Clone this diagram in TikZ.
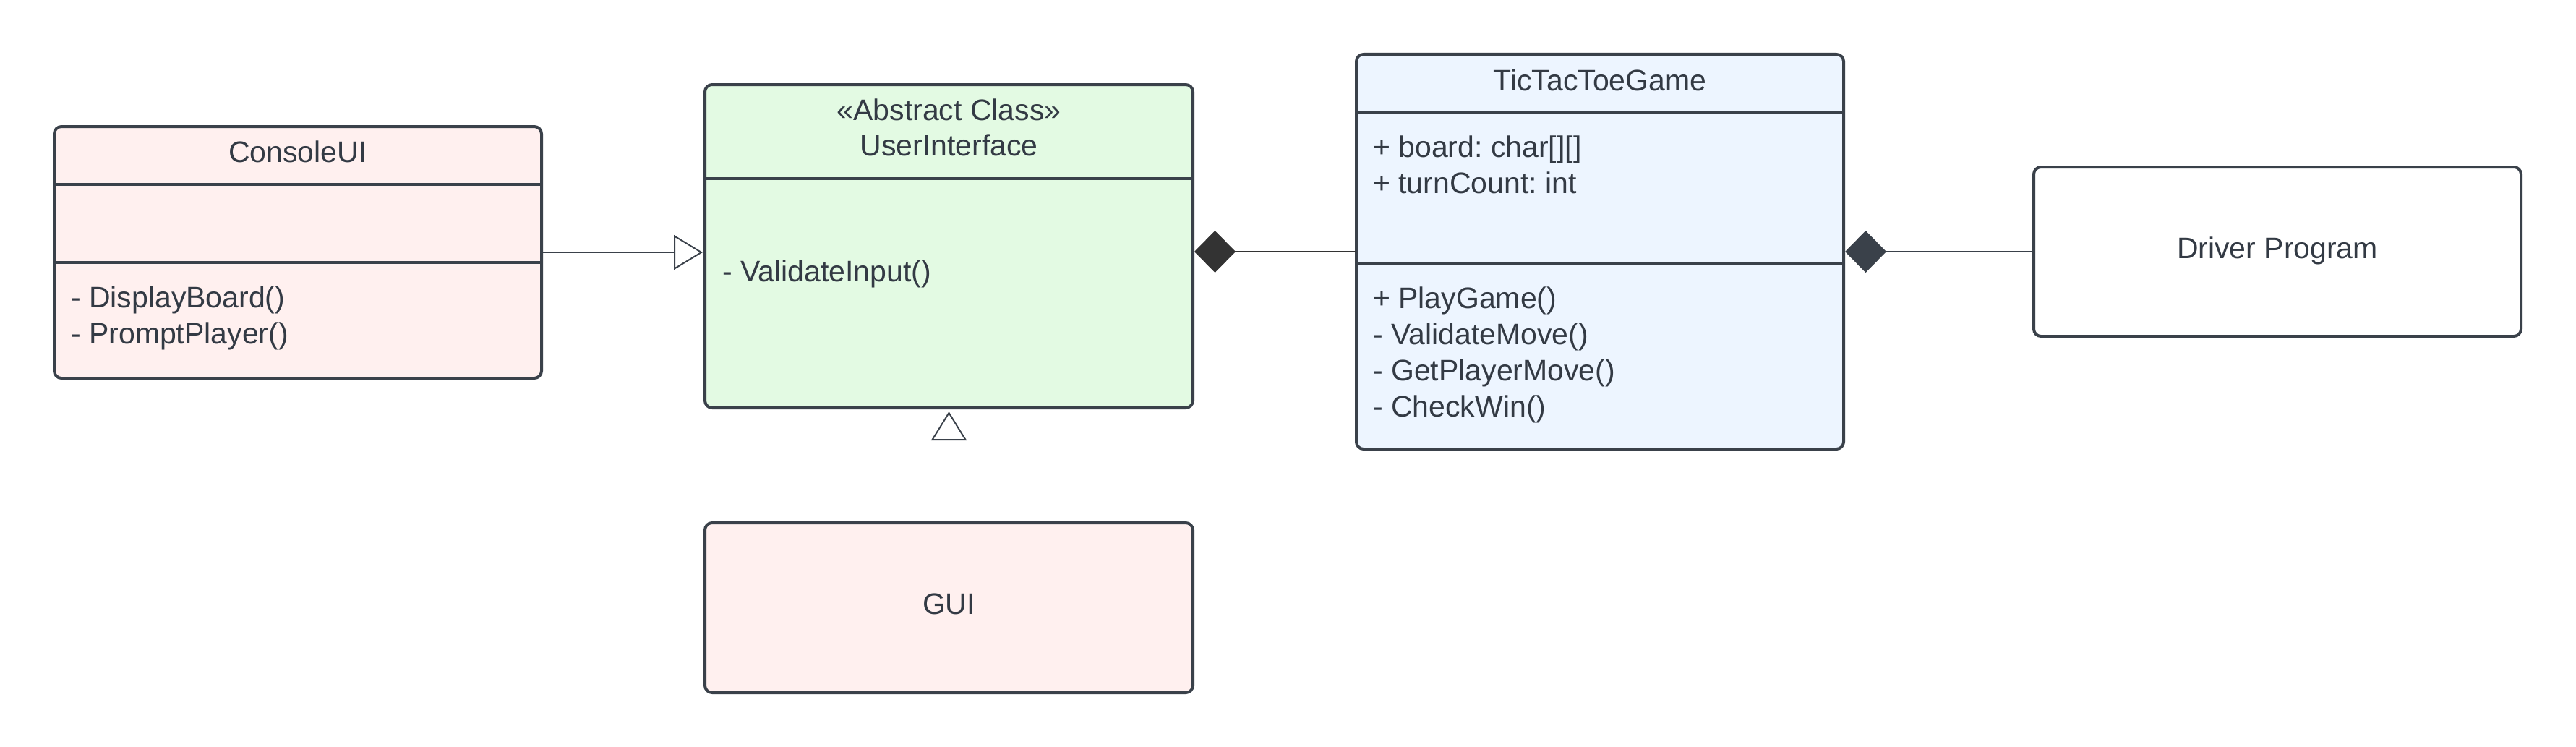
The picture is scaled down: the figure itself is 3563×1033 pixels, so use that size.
\documentclass[tikz,border=0pt]{standalone}
\usepackage{fontspec}
\setmainfont{Liberation Sans}
\usetikzlibrary{arrows.meta}
\definecolor{linec}{HTML}{3A414A}
\definecolor{textc}{HTML}{333A44}
\definecolor{pinkf}{HTML}{FFF0EF}
\definecolor{greenf}{HTML}{E3FAE3}
\definecolor{bluef}{HTML}{EDF5FF}
\definecolor{darkd}{HTML}{333333}
\newcommand\myfs{\fontsize{41}{50}\selectfont\frenchspacing}
\tikzset{
  cls/.style={draw=linec, line width=4pt, rounded corners=10pt, inner sep=0pt, outer sep=0pt, anchor=north west},
  txt/.style={anchor=base west, inner sep=0pt, text=textc, font=\myfs},
  ttl/.style={anchor=base, inner sep=0pt, text=textc, font=\myfs},
  sepline/.style={draw=linec, line width=4pt},
  conn/.style={draw=linec, line width=2pt},
}
\begin{document}
\frenchspacing
\begin{tikzpicture}[x=1pt, y=-1pt]
\useasboundingbox (0,0) rectangle (3563,1033);
% boxes
\node[cls, fill=pinkf, minimum width=674pt, minimum height=348pt] (cons) at (75,175) {};
\node[cls, fill=greenf, minimum width=675pt, minimum height=447pt] (ui) at (975,117) {};
\node[cls, fill=pinkf, minimum width=675pt, minimum height=235pt] (gui) at (975,723) {};
\node[cls, fill=bluef, minimum width=674pt, minimum height=546pt] (ttt) at (1876,75) {};
\node[cls, fill=white, minimum width=674pt, minimum height=234pt] (drv) at (2813,231) {};
% compartments
\draw[sepline] (75,255) -- (749,255);
\draw[sepline] (75,363) -- (749,363);
\draw[sepline] (975,247) -- (1650,247);
\draw[sepline] (1876,156) -- (2550,156);
\draw[sepline] (1876,364) -- (2550,364);
% texts
\node[ttl] (consT) at (412,224) {ConsoleUI};
\node[txt] (consM1) at (98,425) {- DisplayBoard()};
\node[txt] (consM2) at (98,475) {- PromptPlayer()};
\node[ttl] (uiS) at (1312.5,166) {«Abstract Class»};
\node[ttl] (uiT) at (1312.5,215) {UserInterface};
\node[txt] (uiM1) at (999,389) {- ValidateInput()};
\node[ttl] (guiT) at (1312.5,849) {GUI};
\node[ttl] (tttT) at (2213,125) {TicTacToeGame};
\node[txt] (tttA1) at (1899,217) {+ board: char[][]};
\node[txt] (tttA2) at (1899,267) {+ turnCount: int};
\node[txt] (tttM1) at (1899,426) {+ PlayGame()};
\node[txt] (tttM2) at (1899,476) {- ValidateMove()};
\node[txt] (tttM3) at (1899,526) {- GetPlayerMove()};
\node[txt] (tttM4) at (1899,576) {- CheckWin()};
\node[ttl] (drvT) at (3150,357) {Driver Program};
% connectors
\draw[conn, shorten >=3pt, -{Triangle[length=40pt, width=48pt, fill=white]}] (cons.east) -- (cons.east -| ui.west);
\draw[conn, line width=1.2pt, shorten >=5pt, -{Triangle[length=40pt, width=49pt, fill=white, line width=2pt]}] (gui.north) -- (ui.south);
\draw[conn, color=darkd, shorten <=2pt, {Diamond[length=57pt, width=58pt, fill=darkd]}-] (ttt.west -| ui.east) -- (ttt.west);
\draw[conn, shorten <=2pt, {Diamond[length=57pt, width=58pt, fill=linec]}-] (drv.west -| ttt.east) -- (drv.west);
\end{tikzpicture}
\end{document}
